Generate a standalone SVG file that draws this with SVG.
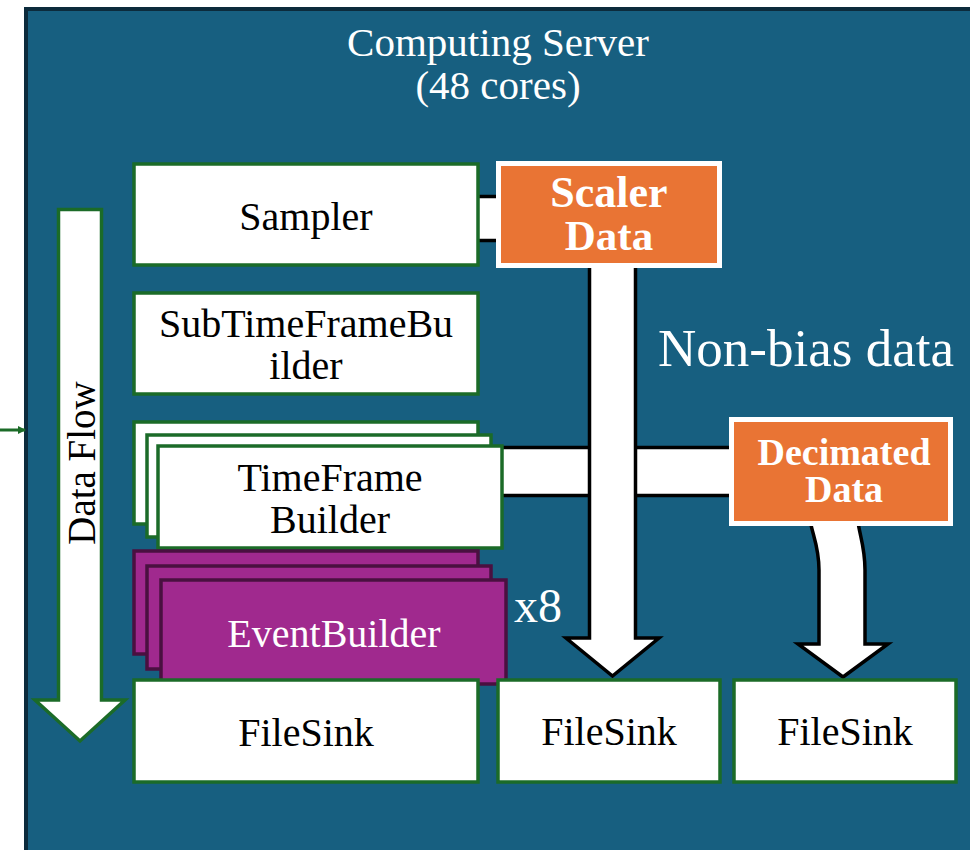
<svg xmlns="http://www.w3.org/2000/svg" width="970" height="850" viewBox="0 0 970 850">
<defs>
<style>
.box{fill:#fff;stroke:#1b6b28;stroke-width:3.5}
.eb{fill:#a0298e;stroke:#4a1040;stroke-width:3.5}
.or{fill:#e97434;stroke:#fff;stroke-width:5}
.band{fill:#fff;stroke:#000;stroke-width:3.5}
text{font-family:"Liberation Serif","DejaVu Serif",serif;fill:#000;text-anchor:middle}
.w{fill:#fff}
.b{font-weight:bold;fill:#fff}
</style>
<marker id="gh" markerWidth="8" markerHeight="8" refX="7" refY="4" orient="auto" markerUnits="userSpaceOnUse">
<path d="M0,0 L8,4 L0,8 z" fill="#1b6b28"/>
</marker>
</defs>
<rect width="970" height="850" fill="#fff"/>
<g id="server">
<rect x="26" y="9" width="970" height="870" fill="#175f80" stroke="#0c2b3c" stroke-width="4"/>
<text class="w" x="498" y="56" style="font-size:41px">Computing Server</text>
<text class="w" x="498" y="99" style="font-size:41px">(48 cores)</text>
<text class="w" x="806" y="366" style="font-size:53px">Non-bias data</text>
<text class="w" x="538" y="622" style="font-size:48px">x8</text>
</g>
<g id="connectors">
<line x1="0" y1="430" x2="25" y2="430" stroke="#1b6b28" stroke-width="3" marker-end="url(#gh)"/>
<rect class="band" x="470" y="196.5" width="35" height="44"/>
<rect class="band" x="490" y="447.5" width="250" height="48"/>
<path class="band" d="M589.5,262 L589.5,638 L566,638 L612.5,676 L659,638 L635.5,638 L635.5,262 Z"/>
<path class="band" d="M809,515 C812,535 819,545 819,570 L819,644 L798,644 L843,677 L888,644 L865,644 L865,570 C865,545 859,535 857,515 Z"/>
<path fill="#fff" stroke="#1b6b28" stroke-width="3.5" d="M58.5,209.5 L101.5,209.5 L101.5,700 L125,700 L80,741 L35,700 L58.5,700 Z"/>
<text transform="translate(95,463) rotate(-90)" x="0" y="0" style="font-size:39px">Data Flow</text>
</g>
<g id="sampler">
<rect class="box" x="134" y="164" width="344" height="101"/>
<text x="306" y="230" style="font-size:40px">Sampler</text>
</g>
<g id="scaler">
<rect class="or" x="498.5" y="163.5" width="221" height="102"/>
<text class="b" x="609" y="207" style="font-size:44px">Scaler</text>
<text class="b" x="609" y="250" style="font-size:43px">Data</text>
</g>
<g id="subtimeframebuilder">
<rect class="box" x="134" y="293" width="344" height="101"/>
<text x="306" y="337" style="font-size:40px">SubTimeFrameBu</text>
<text x="306" y="379" style="font-size:40px">ilder</text>
</g>
<g id="timeframebuilder">
<rect class="box" x="134" y="422" width="344" height="102"/>
<rect class="box" x="147" y="435" width="344" height="102"/>
<rect class="box" x="158" y="446" width="344" height="102"/>
<text x="330" y="491" style="font-size:40px">TimeFrame</text>
<text x="330" y="533" style="font-size:40px">Builder</text>
</g>
<g id="eventbuilder">
<rect class="eb" x="134" y="551" width="344" height="103"/>
<rect class="eb" x="147" y="566" width="344" height="103"/>
<rect class="eb" x="161" y="580" width="345" height="104"/>
<text class="w" x="334" y="647" style="font-size:40px">EventBuilder</text>
</g>
<g id="decimated">
<rect class="or" x="731.5" y="419.5" width="219" height="104"/>
<text class="b" x="844" y="465" style="font-size:38px">Decimated</text>
<text class="b" x="844" y="502" style="font-size:38px">Data</text>
</g>
<g id="filesink1">
<rect class="box" x="134" y="680" width="344" height="102"/>
<text x="306" y="746" style="font-size:40px">FileSink</text>
</g>
<g id="filesink2">
<rect class="box" x="498" y="680" width="222" height="102"/>
<text x="609" y="745" style="font-size:40px">FileSink</text>
</g>
<g id="filesink3">
<rect class="box" x="734" y="680" width="222" height="102"/>
<text x="845" y="745" style="font-size:40px">FileSink</text>
</g>
</svg>
